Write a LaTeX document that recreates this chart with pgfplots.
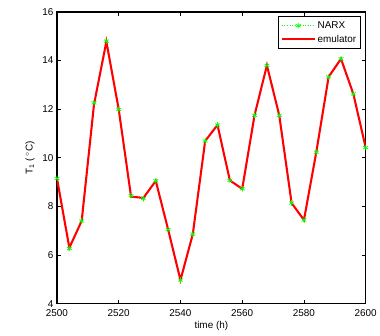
\documentclass[border=0pt]{standalone}
\usepackage{pgfplots}
\pgfplotsset{compat=1.18}
\usepackage{fontspec}
\setmainfont{Liberation Sans}
\begin{document}
\begin{tikzpicture}
\pgfplotstableread{
x y
2500 9.15
2504 6.27
2508 7.40
2512 12.26
2516 14.80
2520 11.99
2524 8.44
2528 8.32
2532 9.05
2536 7.05
2540 4.97
2544 6.86
2548 10.69
2552 11.35
2556 9.07
2560 8.72
2564 11.75
2568 13.80
2572 11.75
2576 8.14
2580 7.44
2584 10.23
2588 13.33
2592 14.07
2596 12.63
2600 10.42
}\narx
\pgfplotstableread{
x y
2500 9.15
2504 6.30
2508 7.40
2512 12.20
2516 14.78
2520 11.99
2524 8.40
2528 8.35
2532 9.05
2536 7.05
2540 4.97
2544 6.86
2548 10.69
2552 11.35
2556 9.07
2560 8.72
2564 11.75
2568 13.80
2572 11.75
2576 8.14
2580 7.44
2584 10.23
2588 13.33
2592 14.07
2596 12.63
2600 10.42
}\emul
\begin{axis}[
  scale only axis,
  width=310.4bp, height=293.3bp,
  xmin=2500, xmax=2600, ymin=4, ymax=16,
  xtick={2500,2520,...,2600}, ytick={4,6,...,16},
  tick align=inside,
  tick pos=both,
  major tick length=4bp,
  axis line style={line width=1.2pt},
  every tick/.style={black, line width=0.7pt},
  tick label style={font=\fontsize{10}{11}\selectfont},
  xticklabel style={yshift=-2bp},
  label style={font=\fontsize{10}{11}\selectfont},
  /pgf/number format/assume math mode=true,
  /pgf/number format/1000 sep={},
  xlabel={time (h)},
  ylabel={T\textsubscript{1} (\,$^{\circ}$C)},
  xlabel style={yshift=2bp},
  ylabel style={yshift=1bp},
  legend style={at={(rel axis cs:0.984,0.986)}, anchor=north east,
    font=\fontsize{10}{11}\selectfont, draw=black, line width=1.2pt,
    inner xsep=2pt, inner ysep=3pt, row sep=1pt,
    cells={anchor=west}},
  legend image code/.code={\draw[mark repeat=2,mark phase=2,#1] plot coordinates {(0cm,0cm) (0.58cm,0cm) (1.16cm,0cm)};},
]
\addplot[color=green, dotted, line width=0.6pt, mark=asterisk, mark size=2.8pt, mark options={solid, line width=0.7pt}] table[x=x,y=y]{\narx};
\addlegendentry{NARX}
\addplot[color=red, line width=2.1pt, no marks] table[x=x,y=y]{\emul};
\addlegendentry{emulator}
\end{axis}
\path[use as bounding box] (-57.3bp,-31.7bp) rectangle (322.7bp,305.3bp);
\end{tikzpicture}
\end{document}
